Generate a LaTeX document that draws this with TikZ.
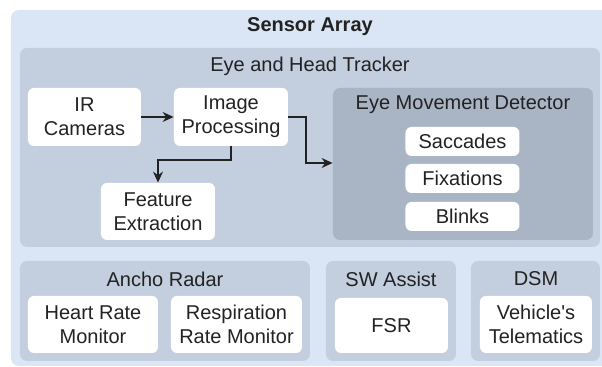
\documentclass[tikz,border=0pt]{standalone}
\usepackage{fontspec}
\setmainfont{Liberation Sans}
\usepackage{tikz}
\usetikzlibrary{positioning,fit,backgrounds,arrows.meta}
\usepackage{xcolor}
\definecolor{sensorbg}{HTML}{DAE6F5}
\definecolor{panelbg}{HTML}{C3CEDF}
\definecolor{detectbg}{HTML}{A9B4C5}
\definecolor{ink}{HTML}{222222}

\begin{document}
\begin{tikzpicture}[
          x=0.5pt, y=-0.5pt,
          every node/.style={font=\fontsize{10}{12}\selectfont, text=ink},
          outer/.style={fill=sensorbg,rounded corners=4pt,inner sep=0pt},
          panel/.style={fill=panelbg,rounded corners=3.5pt,inner sep=0pt},
          detect/.style={fill=detectbg,rounded corners=3.5pt,inner sep=0pt},
          card/.style={fill=white,rounded corners=3pt,inner sep=0pt,align=center,
                       minimum width=57pt,minimum height=29pt},
          chip/.style={card,minimum height=14.5pt},
          link/.style={draw=ink,line width=0.6pt,-{Stealth[length=5.5pt,width=5pt]}},
        ]
        \useasboundingbox (0,0) rectangle (602,367);
        % containers
        \node[outer, fit={(11,10) (620,366)}] (sensors) {};
        \node[font=\fontsize{10}{12}\selectfont\bfseries] (sensorsT) at (310,27) {Sensor Array};
        \node[panel, fit={(20,48) (600,247)}] (tracker) {};
        \node (trackerT) at (310,66) {Eye and Head Tracker};
        \node[detect, fit={(333,88) (593,240)}] (detector) {};
        \node (detectorT) at (463,105) {Eye Movement Detector};

        % tracker chain
        \node[card, minimum width=56.5pt] (ircam) at (84.5,117) {IR\\Cameras};
        \node[card] (improc) at (231,117) {Image\\Processing};
        \node[card, minimum height=28.5pt] (feature) at (158,211.5) {Feature\\Extraction};
        \node[chip] (saccades) at (462.5,141.5) {Saccades};
        \node[chip] (fixations) at (462.5,178.5) {Fixations};
        \node[chip] (blinks) at (462.5,216.5) {Blinks};

        \draw[link] (ircam) -- (improc);
        \draw[link] (improc.south) |- (158,160) -- (feature.north);
        \draw[link] (improc.east) -| (306,163) -- (detector.west |- 0,163);

        % bottom row
        \node[panel, fit={(20,261) (310,361)}] (radar) {};
        \node (radarT) at (165,279) {Ancho Radar};
        \node[card, minimum width=65pt, minimum height=28.5pt] (heart) at (93,324.5) {Heart Rate\\Monitor};
        \node[card, minimum width=65.5pt, minimum height=28.5pt] (resp) at (236.5,324.5) {Respiration\\Rate Monitor};

        \node[panel, fit={(326,261) (456,361)}] (swassist) {};
        \node (swassistT) at (391,279) {SW Assist};
        \node[card, minimum width=56.5pt, minimum height=27.5pt] (fsr) at (391.5,325.5) {FSR};

        \node[panel, fit={(471,261) (600,361)}] (dsm) {};
        \node (dsmT) at (536,279) {DSM};
        \node[card, minimum width=56pt, minimum height=28.5pt] (telem) at (536,324.5) {Vehicle\textquotesingle s\\Telematics};
      \end{tikzpicture}
\end{document}
